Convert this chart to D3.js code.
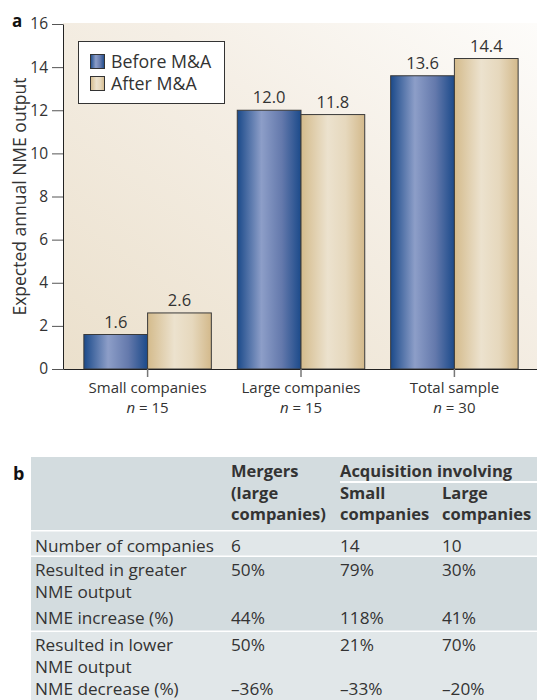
<!DOCTYPE html>
<html>
<head>
<meta charset="utf-8">
<script src="https://cdn.jsdelivr.net/npm/d3@7/dist/d3.min.js"></script>
<style>
body { margin: 0; background: #fff; }
svg { display: block; font-family: 'Open Sans', sans-serif; }
</style>
</head>
<body>
<div id="chart"></div>
<script>
// data
var groups = ['Small companies', 'Large companies', 'Total sample']
var groupN = [15, 15, 30]
var series = ['Before M&A', 'After M&A']
var before = [1.6, 12.0, 13.6]
var after = [2.6, 11.8, 14.4]
var yTicks = [0, 2, 4, 6, 8, 10, 12, 14, 16]

var rowLabels = [
    ['Number of companies'],
    ['Resulted in greater', 'NME output'],
    ['NME increase (%)'],
    ['Resulted in lower', 'NME output'],
    ['NME decrease (%)']
]
var mergers = ['6', '50%', '44%', '50%', '\u201336%']
var acqSmall = ['14', '79%', '118%', '21%', '\u201333%']
var acqLarge = ['10', '30%', '41%', '70%', '\u201320%']

// svg
var w = 537,
    h = 700,
    left = 63,
    top0 = 24,
    bottom0 = 369,
    ink = '#333'

var svg = d3.select('#chart')
    .append('svg')
    .attr('width', w)
    .attr('height', h)

var defs = svg.append('defs')

var bg = defs.append('linearGradient').attr('id', 'bg')
    .attr('x1', '0').attr('y1', '1').attr('x2', '1').attr('y2', '0')
bg.append('stop').attr('offset', '0').attr('stop-color', '#ebe0cc')
bg.append('stop').attr('offset', '0.6').attr('stop-color', '#f5efe6')
bg.append('stop').attr('offset', '1').attr('stop-color', '#fdfcfa')

var blue = defs.append('linearGradient').attr('id', 'blue')
blue.append('stop').attr('offset', '0').attr('stop-color', '#1b4a8a')
blue.append('stop').attr('offset', '0.38').attr('stop-color', '#8d9ec8')
blue.append('stop').attr('offset', '0.7').attr('stop-color', '#6479ac')
blue.append('stop').attr('offset', '1').attr('stop-color', '#1b4a8a')

var tan = defs.append('linearGradient').attr('id', 'tan')
tan.append('stop').attr('offset', '0').attr('stop-color', '#d4bb8c')
tan.append('stop').attr('offset', '0.42').attr('stop-color', '#ece2ce')
tan.append('stop').attr('offset', '0.7').attr('stop-color', '#e6d8bd')
tan.append('stop').attr('offset', '1').attr('stop-color', '#d3b98b')

var fills = ['url(#blue)', 'url(#tan)']

// scales
var y = d3.scaleLinear().domain([0, 16]).range([bottom0, top0])

var x0 = d3.scaleBand()
    .domain(groups)
    .range([left, w + 2])
    .paddingInner(0.169)
    .paddingOuter(0.136)

var x1 = d3.scaleBand()
    .domain(series)
    .range([0, x0.bandwidth()])

// plot background
svg.append('rect')
    .attr('x', left)
    .attr('y', top0 - 1)
    .attr('width', w - left)
    .attr('height', bottom0 - top0 + 1)
    .attr('fill', 'url(#bg)')

// bars
var rows = groups.map((g, i) => ({ group: g, values: [before[i], after[i]] }))

var grp = svg.selectAll('.grp')
    .data(rows)
    .enter()
    .append('g')
    .attr('transform', d => `translate(${x0(d.group)},0)`)

grp.selectAll('rect')
    .data(d => d.values.map((v, j) => ({ s: series[j], v: v, j: j })))
    .enter()
    .append('rect')
    .attr('x', d => x1(d.s))
    .attr('y', d => y(d.v))
    .attr('width', x1.bandwidth())
    .attr('height', d => y(0) - y(d.v))
    .attr('fill', d => fills[d.j])
    .attr('stroke', '#3a3a3a')
    .attr('stroke-width', 1)

grp.selectAll('text')
    .data(d => d.values.map((v, j) => ({ s: series[j], v: v })))
    .enter()
    .append('text')
    .attr('x', d => x1(d.s) + x1.bandwidth() / 2)
    .attr('y', d => y(d.v) - 7)
    .attr('text-anchor', 'middle')
    .attr('font-size', 16.5)
    .attr('fill', ink)
    .text(d => d.v.toFixed(1))

// axes
var yaxis = d3.axisLeft(y)
    .tickValues(yTicks)
    .tickSize(11)
    .tickPadding(4)
    .tickSizeOuter(0)

var gy = svg.append('g')
    .attr('transform', `translate(${left},0)`)
    .call(yaxis)
gy.selectAll('text').attr('font-size', 15.5).attr('fill', ink).attr('font-family', "'Open Sans', sans-serif")
gy.selectAll('line').attr('stroke', '#555')
gy.select('.domain').attr('stroke', '#222')

var gx = svg.append('g')
    .attr('transform', `translate(0,${bottom0})`)
    .call(d3.axisBottom(x0).tickSize(8).tickSizeOuter(0).tickFormat(''))
gx.select('.domain').attr('stroke', '#222')
gx.selectAll('line').attr('stroke', '#777').attr('stroke-width', 1.5)

groups.forEach((g, i) => {
    var cx = x0(g) + x0.bandwidth() / 2
    svg.append('text')
        .attr('x', cx)
        .attr('y', 393)
        .attr('text-anchor', 'middle')
        .attr('font-size', 15)
        .attr('fill', ink)
        .text(g)
    var t = svg.append('text')
        .attr('x', cx)
        .attr('y', 413)
        .attr('text-anchor', 'middle')
        .attr('font-size', 15)
        .attr('fill', ink)
    t.append('tspan').attr('font-style', 'italic').text('n')
    t.append('tspan').text(' = ' + groupN[i])
})

svg.append('text')
    .attr('transform', `translate(26,${(top0 + bottom0) / 2}) rotate(-90)`)
    .attr('text-anchor', 'middle')
    .attr('font-size', 17.5)
    .attr('fill', ink)
    .text('Expected annual NME output')

svg.append('text')
    .attr('x', 12)
    .attr('y', 27)
    .attr('font-size', 17)
    .attr('font-weight', 'bold')
    .attr('fill', '#111')
    .text('a')

// legend
svg.append('rect')
    .attr('x', 78.5)
    .attr('y', 41.5)
    .attr('width', 146)
    .attr('height', 62)
    .attr('fill', '#fff')
    .attr('stroke', '#333')

series.forEach((s, i) => {
    svg.append('rect')
        .attr('x', 90.5)
        .attr('y', 54.5 + i * 22)
        .attr('width', 14)
        .attr('height', 14)
        .attr('fill', fills[i])
        .attr('stroke', '#333')
    svg.append('text')
        .attr('x', 111)
        .attr('y', 68 + i * 22)
        .attr('font-size', 17.8)
        .attr('fill', ink)
        .text(s)
})

// table b
var tx = [35, 231, 340, 442]
var fs = 17.2

svg.append('text')
    .attr('x', 13)
    .attr('y', 480)
    .attr('font-size', 18)
    .attr('font-weight', 'bold')
    .attr('fill', '#111')
    .text('b')

var dark = '#d3dcdf',
    light = '#e1e7e9'

var bands = [
    { y0: 457, y1: 530, c: dark },
    { y0: 531.5, y1: 555.5, c: light },
    { y0: 557, y1: 630.5, c: dark },
    { y0: 632, y1: 700, c: light }
]
svg.selectAll('.band')
    .data(bands)
    .enter()
    .append('rect')
    .attr('x', 31)
    .attr('y', d => d.y0)
    .attr('width', w - 31)
    .attr('height', d => d.y1 - d.y0)
    .attr('fill', d => d.c)

svg.append('line')
    .attr('x1', 340).attr('x2', w)
    .attr('y1', 482).attr('y2', 482)
    .attr('stroke', '#fff').attr('stroke-width', 2)

var head = [
    { x: tx[1], lines: ['Mergers', '(large', 'companies)'] },
    { x: tx[2], lines: ['Acquisition involving'] },
    { x: tx[2], lines: ['', 'Small', 'companies'] },
    { x: tx[3], lines: ['', 'Large', 'companies'] }
]
head.forEach(hd => {
    hd.lines.forEach((l, k) => {
        svg.append('text')
            .attr('x', hd.x)
            .attr('y', 477 + k * 21.5)
            .attr('font-size', 16.5)
            .attr('font-weight', 'bold')
            .attr('fill', ink)
            .text(l)
    })
})

var rowBase = [552, 576, 624, 651, 695]
rowLabels.forEach((lab, i) => {
    lab.forEach((l, k) => {
        svg.append('text')
            .attr('x', tx[0])
            .attr('y', rowBase[i] + k * 21.5)
            .attr('font-size', fs)
            .attr('fill', ink)
            .text(l)
    })
    ;[mergers, acqSmall, acqLarge].forEach((col, c) => {
        svg.append('text')
            .attr('x', tx[c + 1])
            .attr('y', rowBase[i])
            .attr('font-size', fs)
            .attr('fill', ink)
            .text(col[i])
    })
})
</script>
</body>
</html>
